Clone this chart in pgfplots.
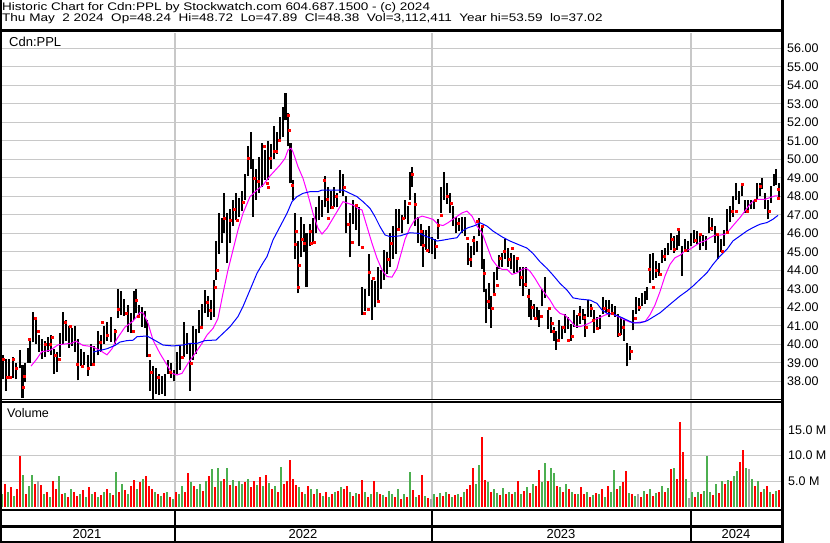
\documentclass[border=0pt]{standalone}
\usepackage{fontspec}
\setmainfont{Liberation Sans}
\usepackage{graphicx}
\usepackage{pgfplots}
\usepackage{pgfplotstable}
\pgfplotsset{compat=1.18}
\definecolor{gridgray}{RGB}{200,200,200}
\definecolor{vgreen}{RGB}{76,175,80}
\definecolor{vred}{RGB}{255,0,0}
\definecolor{vgray}{RGB}{165,165,165}
\definecolor{magline}{RGB}{255,0,255}
\definecolor{blueline}{RGB}{0,0,255}

\pgfplotstableread{
x lo hi
3 38.1 39.4
6 37.5 39.2
9 38.1 39.2
13 38.2 39.3
16 38.1 39.0
20 38.7 39.7
22.5 37.1 38.9
25 37.95 39.0
28 39.0 39.8
30 39.0 40.3
33 40.1 41.75
36 40.0 41.4
39 39.6 40.5
42 39.2 40.3
45 39.3 40.2
48 39.6 40.4
51 39.4 40.5
54 38.4 39.75
57 38.5 39.6
60 39.3 40.6
63 40.0 41.75
66 40.2 41.3
69 39.8 41.0
72 39.9 40.9
75 39.6 41.0
78 38.05 40.3
81 38.85 39.75
84 38.9 39.6
88 38.3 39.4
91 38.85 40.0
94 39.0 39.9
98 39.4 40.7
101 39.6 40.5
104 40.0 41.0
107 40.2 41.2
111 40.1 41.5
115 40.0 40.8
118 41.4 43.0
121 41.6 42.9
124 41.55 42.45
128 40.65 42.1
131 40.6 41.7
134 41.3 42.9
136 41.7 43.0
139 41.4 42.1
142 40.95 42.0
145 40.9 41.8
147 39.3 41.3
150 37.5 39.15
153 37.0 38.8
156 37.3 38.7
159 37.25 38.4
162 37.3 38.3
165 37.2 38.4
168 38.4 39.15
171 38.2 39.0
174 38.0 38.6
177 38.4 39.6
180 38.6 39.9
184 39.3 41.2
187 39.5 40.6
190 37.5 40.05
193 39.15 41.0
196 39.5 40.8
199 40.6 41.85
202 41.0 42.2
205 41.7 42.95
208 41.5 42.6
211 41.3 42.4
214 41.5 43.5
216 43.5 45.6
219 44.9 47.1
222 45.5 46.8
224 46.0 48.2
227 44.4 47.1
230 45.5 47.3
233 46.4 47.8
236 46.7 48.2
239 46.9 47.9
242 47.2 48.3
245 47.8 49.2
248 49.1 50.7
251 49.5 51.5
253 46.9 50.0
256 47.8 49.5
259 48.2 50.1
262 48.5 50.9
265 48.9 50.5
268 48.9 51.0
271 49.5 50.8
274 50.0 51.8
277 50.3 51.5
280 51.0 52.3
283 51.2 52.85
285.5 52.1 53.6
288 50.7 52.5
290.5 48.7 50.9
293 47.8 48.9
295 44.6 47.1
298 42.75 45.6
301 44.7 46.9
304 45.0 46.5
306.5 43.1 46.0
310 45.3 46.5
313 45.5 46.8
316 46.0 47.4
319 46.7 48.0
322 46.9 47.8
325 47.4 49.1
328 47.1 48.5
331 47.3 48.3
334 47.4 48.5
337 47.4 48.2
340 48.2 49.4
343 48.0 49.2
346 46.0 48.0
350 44.7 47.1
353 46.5 47.8
356 46.2 47.6
359 45.3 47.4
362 41.6 43.1
365 41.8 43.0
369 42.6 44.9
372 41.3 43.5
375 42.0 43.4
378 42.4 44.2
381 43.0 44.0
384 43.5 45.1
387 43.8 45.0
390 44.2 46.0
393 44.6 46.4
396 44.9 47.3
399 46.2 47.3
402 46.0 47.0
405 46.75 47.8
408 46.5 47.5
410 47.8 49.3
412 48.5 49.6
415 46.4 48.2
418 45.5 46.9
421 45.3 46.5
423 44.2 46.2
426 45.1 46.2
429 44.95 46.4
432 44.9 45.8
435 44.6 45.7
438 45.7 46.75
441 47.1 48.5
444 47.8 49.3
447 47.6 48.7
450 47.1 48.2
453 46.4 47.5
456 46.0 46.9
459 46.1 46.8
462 46.0 46.9
465 45.85 46.9
468 44.3 45.5
471 44.2 45.3
474 44.8 45.85
477 45.0 45.6
479 45.85 46.8
482 44.05 46.4
484 42.8 44.6
486 41.15 43.0
489 41.9 43.3
491 40.9 42.6
494 42.6 43.9
497 43.5 44.2
499 44.05 44.8
502 44.2 44.95
505 44.6 45.7
508 44.2 45.2
511 44.05 44.95
514 43.85 44.8
517 43.9 44.6
520 43.15 44.2
523 42.6 44.2
526 43.1 44.2
529 41.5 43.0
531 41.3 42.4
534 41.5 42.2
537 41.3 42.0
539 40.95 41.85
542 42.05 43.0
545 42.5 43.65
548 40.8 41.85
551 40.6 41.5
554 40.2 40.95
556 39.7 40.7
559 40.2 41.3
562 40.3 41.0
565 40.6 41.65
568 40.8 41.5
571 40.2 41.1
574 40.95 41.85
577 40.9 41.6
580 41.1 42.05
583 41.3 41.9
585 40.4 41.65
588 41.5 42.4
591 41.5 42.2
594 40.6 41.85
597 40.8 41.5
600 40.8 41.6
603 41.65 42.55
606 41.7 42.4
609 41.5 42.4
612 41.6 42.2
615 41.5 42.05
618 40.4 41.65
621 40.5 41.5
624 40.2 41.3
627 38.8 40.05
630 39.15 39.9
633 40.75 41.85
636 41.65 42.55
639 41.8 42.5
642 42.05 42.75
645 42.2 42.9
647 42.4 43.1
650 43.3 44.9
653 43.5 44.95
656 43.6 44.5
659 43.7 44.4
662 44.4 45.1
665 44.5 45.2
668 44.8 45.5
671 45.1 46.0
674 44.95 45.85
677 45.1 45.9
679 45.3 46.2
682 43.7 45.3
685 45.1 45.7
688 45.0 45.6
691 45.3 46.0
694 45.5 46.2
697 45.4 46.1
700 45.1 46.0
703 45.3 45.9
706 45.1 45.85
709 46.0 46.9
712 46.1 46.8
715 45.5 46.4
718 44.6 45.85
721 45.0 45.7
724 45.3 46.2
727 46.0 47.3
730 46.6 47.5
733 46.9 48.0
736 47.8 48.7
739 47.6 48.3
742 48.0 48.74
745 47.1 47.8
748 47.2 47.8
751 47.3 47.8
754 47.3 47.8
757 47.8 48.7
760 48.0 48.7
762 48.4 49.0
765 47.3 48.2
768 46.75 47.8
771 47.65 48.55
774 48.55 49.2
776 48.6 49.46
779 47.89 48.72
}\prices

\begin{document}
\begin{tikzpicture}
\useasboundingbox (0bp,0bp) rectangle (830bp,543bp);
\fill[white] (0bp,0bp) rectangle (830bp,543bp);

% ---------------- price panel ----------------
\begin{axis}[
  at={(0bp,144bp)}, anchor=south west, scale only axis,
  width=782bp, height=368bp,
  xmin=0, xmax=782, ymin=37.043, ymax=56.935,
  axis line style={draw=none},
  major tick length=0pt,
  xtick={175,432,691}, xticklabels={},
  ytick={38,39,...,56},
  grid=major, major grid style={draw=gridgray, line width=1.1bp},
  yticklabel pos=right,
  yticklabel={\pgfmathprintnumber[fixed,fixed zerofill,precision=2,assume math mode=true]{\tick}},
  yticklabel style={font=\fontsize{12.5bp}{14bp}\selectfont, anchor=west, inner sep=0pt, xshift=5bp},
]
\addplot[draw=none, mark=none, forget plot,
  error bars/.cd, y dir=plus, y explicit, error mark=none,
  error bar style={line width=2.7bp, black}]
  table[x=x, y=lo, y error expr=\thisrow{hi}-\thisrow{lo}] \prices;

\addplot[only marks, mark=square*, mark size=1bp, mark options={draw=vred, fill=vred}] coordinates {
(2.7,39.2) (6.7,38.2) (10,38.2) (13.3,39.2) (16,38.7) (22.7,37.7) (24,38.3) (29,40.3) (34.7,41.4)
(38.3,40.7) (45,40.0) (50,40.0) (51.7,40.4) (55,39.4) (59,39.2) (65,41.2) (70,41.0) (77.3,38.9)
(81.7,38.8) (88.3,38.7) (93.3,38.9) (100,40.1) (101.7,41.2) (106.7,40.5) (115,40.7) (118.3,41.9)
(126,41.7) (133.3,40.7) (136,42.4) (138.3,41.5) (149.3,39.4) (150.7,38.5) (158.3,38.2) (170,38.5)
(181.7,39.3) (191,39.0) (201,40.95) (206.7,42.25) (210,41.85) (215.3,43.1) (216.7,44.0) (224.3,46.8)
(230,46.7) (234,47.3) (236.7,46.7) (243.3,47.7) (248.3,50.05) (254,49.0) (257.7,48.8) (266.7,48.7)
(264,50.7) (268.3,48.5) (270,50.05) (274,50.45) (276,50.45) (279.3,51.05) (288.3,52.4) (289.3,51.55)
(292.3,48.6) (296,46.1) (295,45.4) (298,43.1) (299.3,44.25) (302.3,45.7) (304.3,45.45) (310,46.1)
(310.7,45.45) (314,45.5) (324,48.85) (326.7,47.85) (328.3,46.8) (331.7,47.4) (336,48.0) (344,48.5)
(348.3,46.5) (351.7,45.5) (356,47.5) (362,45.25) (364.3,41.7) (368.3,41.9) (369.3,43.9) (373.3,43.55)
(377.7,42.35) (388,44.6) (391,45.45) (397.7,46.2) (403.3,46.8) (409.3,47.6) (411.7,49.2) (415,47.55)
(421,46.1) (423.3,45.35) (426.7,45.1) (435.7,45.3) (438.3,46.45) (440.7,47.0) (446.7,48.0) (450.7,47.6)
(458.3,46.55) (467.3,45.75) (470,44.6) (473.3,45.65) (476.7,46.65) (481.7,46.4) (484.3,43.85) (488.3,42.35)
(492.3,41.95) (494.3,42.7) (497.3,43.2) (500,44.65) (504.3,45.05) (509.3,44.6) (511.7,45.2) (517.3,44.65)
(521,43.65) (525,43.25) (528.3,42.6) (531.7,42.0) (535,41.4) (540.7,41.5) (549.3,41.95) (551.7,41.15)
(553.3,40.7) (557.7,40.2) (562.7,40.9) (568.3,40.2) (572.3,40.45) (579.3,41.65) (584.3,41.45) (586,40.9)
(590.7,41.95) (592.7,41.3) (596.7,40.85) (604,41.95) (608.3,41.85) (611.7,41.7) (619.3,40.55) (623.3,40.95)
(630.7,39.6) (635,41.4) (639.3,42.0) (649.3,44.05) (652.7,43.1) (655.7,44.0) (660,43.8) (664,44.75)
(671.7,45.7) (674,45.15) (678.3,46.2) (684.7,45.1) (695,45.6) (700,45.95) (710.7,46.25) (716.7,45.95)
(721.7,45.05) (727.3,46.05) (732,47.2) (736,47.2) (741.7,48.65) (747.3,47.2) (755,47.8) (760,48.55)
(769.3,47.2) (777.7,47.9) (778.3,48.4)
};

\addplot[magline, line width=1bp, mark=none] coordinates {
(31,38.82) (36.7,39.2) (41.7,39.6) (50,39.67) (58,39.97) (67,40.03) (72,40.06) (76,40.17)
(83,39.94) (92,39.88) (100,39.67) (107,39.43) (112,39.76) (117,40.3) (125,40.93) (133,41.25)
(140,41.72) (143.3,41.68) (148,41.14) (153,40.23) (160,39.5) (167,38.88) (172,38.43) (177,38.34)
(182,38.43) (188,38.97) (195,39.5) (202,40.05) (207,40.5) (213,40.86) (218,41.4) (223,42.76)
(228,44.02) (233,45.1) (238,46.18) (243,47.08) (250,47.98) (257,48.34) (263,48.6) (270,49.1)
(280,49.69) (285,50.05) (288,50.5) (291,50.6) (293,50.4) (298,49.6) (303,48.97) (308,48.07)
(313,47.08) (318,46.27) (322,45.96) (327,46.27) (332,46.72) (338,47.26) (343,47.71) (348,47.62)
(353,47.53) (358,47.35) (362,47.26) (367,46.36) (372,45.46) (377,44.65) (382,44.02) (387,43.66)
(392,43.63) (397,44.1) (400,44.7) (405,45.67) (410,46.3) (415,46.75) (422,46.93) (428,46.84)
(433,46.75) (438,46.48) (443,46.42) (448,46.57) (455,46.84) (462,47.1) (467,47.2) (472,46.93)
(477,46.39) (482,46.03) (487,45.31) (492,44.59) (497,44.23) (502,44.05) (507,44.05) (512,43.78)
(517,43.86) (522,44.05) (526,44.12) (530,43.95) (535,43.56) (540,43.11) (545,42.75) (550,42.39)
(555,41.94) (560,41.67) (565,41.58) (570,41.31) (575,40.98) (580,40.95) (585,41.04) (590,41.16)
(595,41.34) (600,41.45) (605,41.58) (610,41.67) (615,41.58) (620,41.45) (625,41.31) (630,41.2)
(635,41.16) (640,41.2) (645,41.22) (650,41.6) (655,42.13) (660,42.85) (665,43.69) (670,44.32)
(675,44.68) (680,44.81) (685,45.05) (690,45.14) (695,45.32) (700,45.5) (705,45.59) (710,45.77)
(715,45.9) (720,45.9) (725,45.95) (730,46.22) (735,46.54) (740,46.85) (745,47.21) (750,47.57)
(755,47.84) (760,47.84) (765,47.84) (770,47.93) (775,48.02) (778,48.02)
};

\addplot[blueline, line width=1bp, mark=none] coordinates {
(93,39.58) (100,39.67) (107,39.76) (115,39.94) (120,40.12) (127,40.2) (133,40.22) (137,40.41)
(147,40.45) (153,40.27) (163,39.96) (173,39.91) (183,39.96) (190,40.05) (197,40.05) (205,40.2)
(216,40.23) (223,40.59) (230,40.95) (238,41.5) (243,42.04) (250,42.94) (257,43.84) (263,44.4)
(267,44.74) (273,45.64) (280,46.36) (287,47.08) (292,47.71) (297,47.98) (303,48.16) (310,48.25)
(318,48.25) (322,48.34) (330,48.34) (343,48.34) (350,48.16) (357,47.98) (363,47.71) (370,47.35)
(375,46.9) (380,46.36) (385,45.91) (390,45.82) (400,45.86) (410,46.03) (420,45.99) (425,45.85)
(430,45.76) (437,45.58) (443,45.63) (450,45.7) (457,45.76) (462,46.12) (468,46.3) (475,46.42)
(480,46.57) (487,46.39) (493,46.12) (502,45.81) (510,45.58) (518,45.4) (527,45.2) (533,44.91)
(540,44.46) (547,44.1) (553,43.74) (560,43.29) (567,42.93) (573,42.51) (580,42.44) (590,42.39)
(597,42.21) (602,41.85) (607,41.67) (613,41.63) (620,41.49) (627,41.31) (633,41.16) (640,41.16)
(647,41.27) (653,41.47) (660,41.7) (670,42.16) (680,42.61) (687,42.88) (693,43.15) (700,43.51)
(707,43.87) (713,44.32) (720,44.77) (727,45.14) (733,45.59) (740,45.86) (747,46.13) (753,46.31)
(760,46.49) (767,46.58) (773,46.76) (778,46.97)
};
\end{axis}

% ---------------- volume panel ----------------
\begin{axis}[
  at={(0bp,36bp)}, anchor=south west, scale only axis,
  width=782bp, height=105bp,
  xmin=0, xmax=782, ymin=0, ymax=20.39,
  axis line style={draw=none},
  major tick length=0pt,
  xtick={175,432,691}, xticklabels={},
  ytick={5,10,15},
  grid=major, major grid style={draw=gridgray, line width=1.1bp},
  yticklabel pos=right,
  yticklabel={\pgfmathprintnumber[fixed,fixed zerofill,precision=1,assume math mode=true]{\tick} M},
  yticklabel style={font=\fontsize{12.5bp}{14bp}\selectfont, anchor=west, inner sep=0pt, xshift=6bp},
]
\addplot[ycomb, draw=vred, line width=2.5bp, mark=none] coordinates {
(5,4.5) (11,3.8) (17,3.5) (20,9.9) (26,2.5) (35,4.5) (41,4.2) (47,3.0) (53,5.0) (56,3.5)
(62,2.5) (68,2.0) (74,3.0) (77,2.2) (83,3.3) (89,3.8) (95,3.0) (101,2.4) (107,3.5) (113,2.3)
(119,3.0) (125,3.3) (131,4.0) (134,5.2) (140,4.8) (146,6.0) (149,4.0) (152,3.5) (158,2.5) (164,2.8)
(170,2.0) (176,3.0) (185,3.0) (188,6.6) (194,4.0) (203,3.2) (209,6.0) (215,3.8) (224,5.5) (230,4.2)
(236,4.0) (245,4.8) (251,3.8) (254,5.0) (260,5.8) (266,6.3) (272,3.5) (278,3.0) (284,4.5) (287,5.0)
(290,9.2) (293,5.5) (296,4.2) (302,3.0) (308,4.0) (314,2.5) (320,2.8) (326,3.0) (332,2.6) (338,3.2)
(344,3.5) (347,4.0) (353,2.2) (359,2.5) (362,5.2) (368,2.0) (374,5.0) (380,2.6) (386,2.0) (395,2.0)
(401,1.5) (407,2.0) (413,3.3) (419,2.4) (422,6.2) (428,1.8) (437,2.0) (443,2.2) (449,2.5) (455,2.3)
(461,2.0) (467,3.5) (470,4.2) (473,7.5) (482,13.6) (485,5.2) (491,3.0) (500,2.4) (506,2.5) (512,2.6)
(518,5.0) (524,3.2) (530,2.8) (536,4.0) (539,7.1) (548,5.0) (557,4.0) (563,3.0) (569,3.5) (575,2.6)
(581,3.8) (584,2.6) (590,2.0) (596,2.8) (602,3.5) (608,4.0) (617,3.5) (623,4.8) (626,6.9) (632,2.5)
(641,2.0) (647,2.5) (653,2.2) (659,3.0) (665,3.0) (671,7.3) (677,5.5) (680,16.6) (683,10.6) (695,2.0)
(701,2.5) (713,2.4) (719,2.8) (725,4.5) (731,5.0) (740,8.7) (743,11.0) (755,4.0) (761,3.0) (767,4.0)
(773,2.5) (779,3.3)
};
\addplot[ycomb, draw=vgreen, line width=2.5bp, mark=none] coordinates {
(2,2.5) (8,3.0) (14,2.2) (23,6.2) (29,4.0) (32,6.3) (44,2.5) (50,2.0) (59,6.0) (65,2.8)
(71,3.5) (80,2.5) (86,2.0) (92,2.5) (98,2.0) (104,3.0) (110,2.8) (116,6.8) (122,4.5) (128,2.5)
(137,3.5) (143,5.5) (155,3.0) (161,2.2) (167,3.0) (173,1.5) (179,2.6) (182,4.0) (191,4.8) (197,3.5)
(200,4.5) (206,5.0) (212,7.3) (218,7.6) (221,5.0) (227,7.6) (233,5.2) (239,5.0) (242,4.5) (248,5.5)
(257,4.2) (263,4.0) (269,4.6) (275,4.0) (281,7.8) (299,3.8) (305,2.5) (311,3.4) (317,3.5) (323,2.2)
(329,2.0) (335,3.0) (341,3.8) (350,3.0) (356,2.8) (365,3.0) (371,2.5) (377,3.0) (383,2.3) (389,3.1)
(392,2.5) (398,3.5) (404,2.6) (410,6.8) (416,2.0) (425,2.2) (434,2.6) (440,2.8) (446,3.0) (452,2.0)
(458,2.6) (464,3.0) (476,4.5) (479,8.2) (488,4.8) (494,3.5) (497,2.8) (503,3.6) (509,3.0) (515,3.0)
(521,2.5) (527,3.8) (533,4.5) (542,4.8) (545,8.6) (551,7.6) (554,6.6) (560,3.8) (566,4.5) (572,3.0)
(578,2.5) (587,3.0) (593,2.4) (599,2.5) (605,2.0) (611,3.0) (614,7.1) (620,4.0) (629,2.8) (635,2.2)
(644,3.2) (650,3.5) (656,2.8) (662,4.0) (668,3.6) (674,7.6) (686,5.5) (692,3.0) (698,3.0) (704,3.2)
(707,9.9) (710,3.0) (716,4.5) (722,5.0) (728,5.2) (734,6.0) (737,7.0) (746,7.6) (752,5.5) (758,5.0)
(764,3.5) (770,3.0) (776,3.2)
};
\addplot[ycomb, draw=vgray, line width=2.5bp, mark=none] coordinates {
(38,5.0) (431,1.5) (638,2.6) (689,1.8) (749,7.3)
};
\end{axis}

% ---------------- frame and text ----------------
\begin{scope}[x=1bp, y=1bp, every node/.style={inner sep=0pt, font=\fontsize{13bp}{14bp}\selectfont}]
\fill[white] (0,510) rectangle (782,543);
\draw[line width=2.5bp] (0,512.5) -- (783.5,512.5);
\draw[line width=2bp] (1,543) -- (1,0);
\draw[line width=3bp] (782.5,543) -- (782.5,0);
\draw[line width=1.6bp] (0,143.5) -- (782,143.5);
\draw[line width=1.6bp] (0,141) -- (782,141);
\draw[line width=2bp] (0,33) -- (782,33);
\draw[line width=2bp] (0,16.5) -- (782,16.5);
\draw[line width=2bp] (0,1) -- (782,1);
\foreach \xx in {175,432,691} \draw[line width=1.5bp] (\xx,33) -- (\xx,0);
\node[anchor=base west, font=\fontsize{11bp}{12bp}\selectfont] at (2,532.5)
  {\scalebox{1.23}[1]{Historic Chart for Cdn:PPL by Stockwatch.com 604.687.1500 - (c) 2024}};
\node[anchor=base west, font=\fontsize{11bp}{12bp}\selectfont] at (2,521)
  {\scalebox{1.23}[1]{Thu May~ 2 2024~ Op=48.24~ Hi=48.72~ Lo=47.89~ Cl=48.38~ Vol=3,112,411~ Year hi=53.59~ lo=37.02}};
\node[anchor=west] at (9,501) {Cdn:PPL};
\node[anchor=west, font=\fontsize{12.5bp}{14bp}\selectfont] at (7,130) {Volume};
\foreach \xx/\yy in {87/2021, 303/2022, 561/2023, 736/2024}
  \node at (\xx,8.5) {\yy};
\end{scope}
\end{tikzpicture}
\end{document}
